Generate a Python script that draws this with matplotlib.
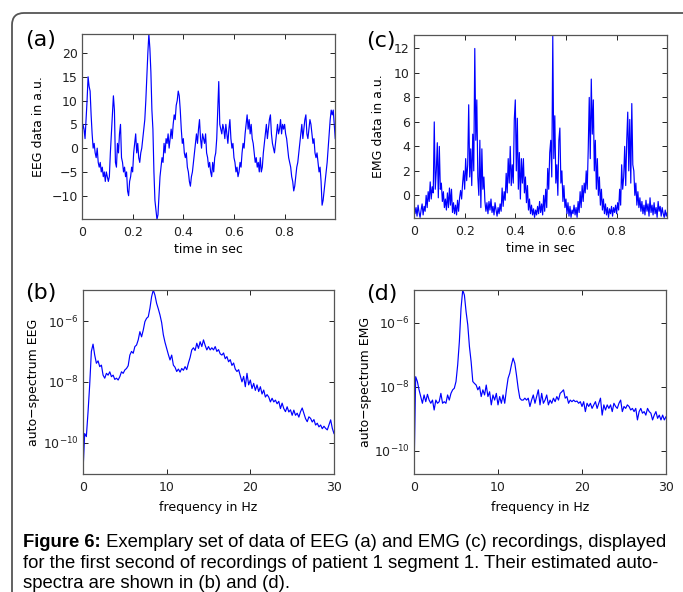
import numpy as np
import matplotlib
matplotlib.use("Agg")
import matplotlib.pyplot as plt
from matplotlib.patches import FancyBboxPatch
from matplotlib.ticker import FixedLocator, FixedFormatter

eeg = [3, 5, 4, 2, 6, 10, 15, 13, 12, 7, 3, 0, 1, -1, -2, 0, -3, -4, -3, -5,
       -4, -6, -5, -7, -5, -6, -7, -6, -1, 3, 7, 11, 8, -3, -4, 1, -1, 3, 5, -2,
       -3, -5, -4, -6, -5, -9, -10, -7, -6, -4, -5, -1, 1, 3, -1, 1, -2, -3, -1, 0,
       2, 4, 6, 10, 15, 20, 24, 21, 16, 8, 4, -5, -11, -13, -15, -14, -10, -6, -4, -2,
       -3, 1, -1, 2, 1, 3, 0, 2, 4, 2, 5, 7, 6, 9, 10, 12, 11, 8, 4, 1,
       2, -1, -2, -1, -4, -5, -7, -8, -6, -5, -3, -1, 1, 3, 1, 4, 6, 2, 0, 3,
       2, 1, 3, -1, -2, -4, -3, -5, -6, -3, -5, -2, -1, 2, 8, 14, 5, 4, 3, 5,
       4, 2, 5, 3, 1, 4, 6, 2, 0, 1, -2, -3, -5, -4, -6, -5, -3, -4, -1, 1,
       0, 3, 5, 7, 4, 6, 3, 5, 2, 1, -1, -3, -2, -4, -3, -5, -2, -5, -4, -1,
       1, 3, 5, 2, 4, 6, 7, 3, 1, 0, -1, 1, 3, 5, 3, 4, 6, 3, 5, 4,
       5, 3, 2, 0, -2, -3, -4, -6, -7, -9, -8, -6, -4, -3, -1, 1, 3, 5, 2, 4,
       6, 7, 3, 2, 4, 6, 5, 3, 1, 2, -1, -2, -1, -3, -5, -4, -7, -12, -11, -9,
       -7, -5, -3, 0, 3, 6, 8, 7, 8, 5, 2]

# EMG (c), sampled every 4 ms
emg = [-0.6, -1.5, -1.0, -1.7, -0.8, -1.4, -1.8, -1.2, -0.7, -1.6,
       -0.9, -1.3, 0.0, -1.0, 0.3, -0.5, 1.1, -0.3, 0.7, 0.2,
       6.0, 0.5, 2.0, 4.3, -0.2, 4.0, 0.5, 1.0, -0.5, 0.3,
       -1.0, -0.3, -1.2, 0.2, -1.0, 0.6, -0.8, 0.5, -1.4, -0.6,
       -1.5, -0.8, -1.6, -0.4, -1.3, -0.2, 0.4, -0.3, 1.0, 2.0,
       0.5, 3.0, 1.2, 2.5, 7.4, 1.5, 3.8, 0.8, 5.0, 2.0,
       12.0, 4.5, 7.8, 1.5, 0.0, 4.5, -1.0, 3.8, 0.5, 1.5,
       -0.5, -1.3, -0.6, -1.5, -0.5, -1.2, -0.3, -1.4, -0.9, -1.6,
       -0.6, -1.2, -1.7, -1.0, -1.5, -0.7, -1.3, 0.6, -0.9, 0.3,
       -0.4, 1.8, 0.2, 3.0, 1.0, 4.0, 0.8, 2.5, 1.0, 6.2,
       7.8, 2.0, 6.3, 0.5, 3.5, -0.3, 3.0, 1.0, 3.0, 0.2,
       1.5, -0.6, 0.8, -1.2, -0.3, -1.5, -0.8, -1.6, -1.1, -1.8,
       -1.2, -1.6, -0.9, -1.5, -0.5, -1.4, -0.7, -1.6, 0.0, -1.3,
       0.5, -1.0, 2.2, 0.5, 3.5, 4.5, 1.5, 13.0, 3.0, 6.5,
       1.0, 2.5, 0.0, 4.5, 5.5, 1.0, 2.0, -0.5, 0.8, -1.0,
       -0.3, -1.5, -0.6, -1.7, -0.9, -1.8, -1.2, -1.5, -0.8, -1.6,
       -1.0, -1.8, -0.5, -1.4, 0.3, -1.0, 0.8, -0.5, 1.0, 0.2,
       2.0, 0.5, 3.8, 8.0, 3.0, 9.5, 5.0, 7.8, 2.0, 4.5,
       0.5, 3.0, 0.0, 1.5, -0.8, 0.5, -1.2, -0.3, -1.5, -0.7,
       -1.6, -1.0, -1.8, -1.1, -1.5, -0.9, -1.7, -1.0, -1.4, -0.8,
       -1.5, -0.6, -1.2, 0.5, -0.8, 2.5, 0.5, 1.5, 4.0, 0.8,
       4.5, 6.8, 2.0, 6.2, 1.0, 7.5, 2.5, 2.0, 0.0, 1.0,
       -0.8, 0.3, -1.0, -0.2, -1.3, -0.5, -1.5, -0.8, -1.6, -0.4,
       -1.3, -0.7, -1.7, -0.2, -1.4, -0.8, -1.6, -0.6, -1.5, -1.0,
       -1.8, -0.5, -1.3, -0.9, -1.7, -1.0, -1.5, -1.8, -1.2, -1.7,
       -1.4]

# auto-spectra, log10 values every 0.2 Hz from 0 to 30 Hz
eeg_spec_log = [
    -10.95, -9.70, -9.80, -9.00, -8.10, -7.00,
    -6.76, -7.12, -7.39, -7.31, -7.50, -7.45, -7.78, -7.88, -7.72, -7.78,
    -7.67, -7.83, -7.78, -7.92, -7.88, -7.94, -7.83, -7.67, -7.72, -7.61,
    -7.56, -7.47, -7.12, -7.00, -7.06, -6.84, -6.79, -6.62, -6.35, -6.52,
    -6.30, -6.02, -5.91, -5.86, -5.58, -5.20, -4.98, -5.15, -5.42, -5.60,
    -5.80, -6.05, -6.45, -6.70, -6.90, -7.10, -7.28, -7.12, -7.45, -7.52,
    -7.66, -7.58, -7.68, -7.56, -7.62, -7.50, -7.60, -7.38, -7.20, -6.95,
    -6.88, -6.97, -6.73, -6.90, -6.68, -6.84, -6.62, -6.80, -6.95, -6.84,
    -6.95, -6.88, -6.95, -6.84, -7.00, -6.94, -7.08, -7.12, -7.05, -7.24,
    -7.17, -7.34, -7.27, -7.46, -7.38, -7.58, -7.66, -7.60, -7.80, -8.00,
    -7.82, -8.16, -7.72, -8.10, -7.94, -8.22, -8.05, -8.28, -8.10, -8.32,
    -8.16, -8.40, -8.27, -8.50, -8.42, -8.50, -8.66, -8.54, -8.66, -8.60,
    -8.72, -8.64, -8.88, -8.70, -8.88, -8.98, -8.82, -8.99, -8.92, -9.10,
    -8.93, -9.10, -9.03, -9.16, -8.98, -8.86, -9.04, -9.21, -9.31, -9.15,
    -9.20, -9.32, -9.24, -9.42, -9.36, -9.48, -9.42, -9.54, -9.46, -9.53,
    -9.58, -9.42, -9.25, -9.53, -9.70]

emg_spec_log = [
    -10.73,
    -7.69, -7.84, -8.10, -8.31, -8.52, -8.26, -8.47, -8.24, -8.42, -8.52,
    -8.42, -8.73, -8.42, -8.52, -8.47, -8.21, -8.52, -8.47, -8.52, -8.26,
    -8.42, -8.21, -8.10, -8.05, -7.84, -7.32, -6.59, -5.55, -4.98, -5.14,
    -5.66, -6.07, -6.75, -7.22, -7.84, -7.90, -7.95, -8.10, -8.00, -8.31,
    -8.10, -8.26, -7.95, -8.31, -8.16, -8.57, -8.26, -8.42, -8.21, -8.57,
    -8.31, -8.52, -8.26, -8.52, -8.10, -7.74, -7.58, -7.32, -7.11, -7.27,
    -7.64, -8.05, -8.36, -8.42, -8.42, -8.36, -8.42, -8.36, -8.62, -8.42,
    -8.26, -8.52, -8.31, -8.10, -8.57, -8.21, -8.52, -8.42, -8.26, -8.57,
    -8.42, -8.52, -8.36, -8.47, -8.31, -8.42, -8.21, -8.16, -8.10, -8.36,
    -8.31, -8.52, -8.42, -8.47, -8.42, -8.47, -8.45, -8.52, -8.47, -8.62,
    -8.47, -8.78, -8.52, -8.62, -8.52, -8.68, -8.57, -8.47, -8.68, -8.52,
    -8.36, -8.89, -8.57, -8.73, -8.57, -8.68, -8.57, -8.78, -8.52, -8.62,
    -8.68, -8.52, -8.42, -8.78, -8.62, -8.68, -8.57, -8.62, -8.73, -8.68,
    -8.78, -8.68, -9.04, -8.78, -8.68, -8.83, -8.78, -8.89, -8.68, -8.78,
    -8.83, -9.04, -8.89, -8.78, -8.99, -8.89, -9.04, -8.89, -9.04, -8.94]

time_ticks = [0, 0.2, 0.4, 0.6, 0.8]
time_labels = ['0', '0.2', '0.4', '0.6', '0.8']
eeg_ticks = [-10, -5, 0, 5, 10, 15, 20]
emg_ticks = [0, 2, 4, 6, 8, 10, 12]
freq_ticks = [0, 10, 20, 30]
spec_ticks = [1e-10, 1e-8, 1e-6]
spec_labels = [r'$10^{-10}$', r'$10^{-8}$', r'$10^{-6}$']

caption_bold = 'Figure 6:'
caption_1 = ' Exemplary set of data of EEG (a) and EMG (c) recordings, displayed'
caption_2 = 'for the first second of recordings of patient 1 segment 1. Their estimated auto-'
caption_3 = 'spectra are shown in (b) and (d).'

t = np.arange(len(eeg)) * 0.004
f = np.arange(len(eeg_spec_log)) * 0.2

W, H = 683, 592
fig = plt.figure(figsize=(W / 100, H / 100), dpi=100)


def box(l, t_, r, b):
    return [l / W, 1 - b / H, (r - l) / W, (b - t_) / H]


def style(ax):
    ax.tick_params(direction='in', top=True, right=True, length=3.5, width=0.7,
                   labelsize=9, pad=3, colors='#222222')
    ax.tick_params(axis='x', pad=5)
    for s in ax.spines.values():
        s.set_color('#555555')
        s.set_linewidth(0.9)


line_kw = dict(color='#0000ff', lw=0.85)
lab_fs = 9

axa = fig.add_axes(box(82, 34, 335, 219))
axa.plot(t, eeg, **line_kw)
axa.set_xlim(0, 0.999)
axa.set_ylim(-14.9, 24.0)
axa.set_xticks(time_ticks, time_labels)
axa.set_yticks(eeg_ticks)
axa.set_xlabel('time in sec', fontsize=lab_fs, labelpad=3)
axa.set_ylabel('EEG data in a.u.', fontsize=lab_fs)
axa.yaxis.set_label_coords(-0.146, 0.5)
style(axa)

axc = fig.add_axes(box(414, 35, 667, 218))
axc.plot(t, emg, **line_kw)
axc.set_xlim(0, 0.999)
axc.set_ylim(-1.85, 13.1)
axc.set_xticks(time_ticks, time_labels)
axc.set_yticks(emg_ticks)
axc.set_xlabel('time in sec', fontsize=lab_fs, labelpad=3)
axc.set_ylabel('EMG data in a.u.', fontsize=lab_fs)
axc.yaxis.set_label_coords(-0.115, 0.5)
style(axc)

axb = fig.add_axes(box(83, 290, 334, 474))
axb.semilogy(f, 10.0 ** np.array(eeg_spec_log), **line_kw)
axb.set_xlim(0, 30)
axb.set_ylim(10 ** -11.03, 10 ** -4.98)
axb.set_xticks(freq_ticks)
axb.yaxis.set_major_locator(FixedLocator(spec_ticks))
axb.yaxis.set_major_formatter(FixedFormatter(spec_labels))
axb.yaxis.set_minor_locator(FixedLocator([]))
axb.set_xlabel('frequency in Hz', fontsize=lab_fs, labelpad=5)
axb.set_ylabel('auto\u2212spectrum EEG', fontsize=lab_fs)
axb.yaxis.set_label_coords(-0.171, 0.5)
style(axb)

axd = fig.add_axes(box(414, 290, 666, 474))
axd.semilogy(f, 10.0 ** np.array(emg_spec_log), **line_kw)
axd.set_xlim(0, 30)
axd.set_ylim(10 ** -10.73, 10 ** -4.98)
axd.set_xticks(freq_ticks)
axd.yaxis.set_major_locator(FixedLocator(spec_ticks))
axd.yaxis.set_major_formatter(FixedFormatter(spec_labels))
axd.yaxis.set_minor_locator(FixedLocator([]))
axd.set_xlabel('frequency in Hz', fontsize=lab_fs, labelpad=5)
axd.set_ylabel('auto\u2212spectrum EMG', fontsize=lab_fs)
axd.yaxis.set_label_coords(-0.167, 0.5)
style(axd)

for lab, x, y in [('(a)', 25, 40), ('(c)', 366, 41), ('(b)', 25, 293), ('(d)', 366, 294)]:
    fig.text(x / W, 1 - y / H, lab, fontsize=16, ha='left', va='center')

# page frame with rounded corner
frame = FancyBboxPatch((0.12, -0.5), 8.0, 5.79 + 0.5,
                       boxstyle='round,pad=0,rounding_size=0.12',
                       transform=fig.dpi_scale_trans, fill=False,
                       edgecolor='#555555', linewidth=1.3)
fig.add_artist(frame)

cap_font = ['Liberation Sans', 'DejaVu Sans']
cap_fs = 13.3
cx = 23 / W
tb = fig.text(cx, 1 - 547 / H, caption_bold, fontsize=cap_fs, fontweight='bold',
              family=cap_font, va='baseline')
renderer = fig.canvas.get_renderer()
bb = tb.get_window_extent(renderer)
fig.text(bb.x1 / W, 1 - 547 / H, caption_1, fontsize=cap_fs, family=cap_font, va='baseline')
fig.text(cx, 1 - 568 / H, caption_2, fontsize=cap_fs, family=cap_font, va='baseline')
fig.text(cx, 1 - 588 / H, caption_3, fontsize=cap_fs, family=cap_font, va='baseline')

fig.savefig('out.png', dpi=100)
